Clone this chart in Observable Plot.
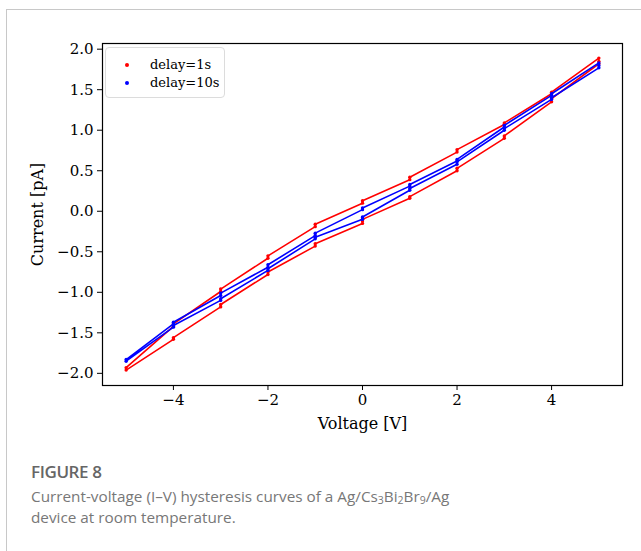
<!DOCTYPE html>
<html><head><meta charset="utf-8">
<script src="https://cdn.jsdelivr.net/npm/d3@7"></script>
<script src="https://cdn.jsdelivr.net/npm/@observablehq/plot@0.6"></script>
<style>
body{margin:0;background:#fff;}
#wrap{position:relative;width:641px;height:551px;overflow:hidden;background:#fff;}
#card{position:absolute;left:6px;top:9px;right:-2px;bottom:-2px;border-left:1px solid #c8c8c8;border-top:1px solid #c8c8c8;}
#chart{position:absolute;left:0;top:0;}
#legend{position:absolute;left:105px;top:47px;width:118px;height:49px;border:1px solid #dcdcdc;border-radius:4px;background:rgba(255,255,255,0.85);font-family:"DejaVu Serif";font-size:13px;color:#000;}
.row{position:absolute;left:0;height:18px;line-height:18px;}
.dot{position:absolute;left:19px;top:7px;width:4px;height:4px;border-radius:50%;}
.lbl{position:absolute;left:44px;top:0;white-space:nowrap;}
#fig{position:absolute;left:31px;top:461px;font-family:"Open Sans";font-weight:600;font-size:17px;line-height:22px;color:#666;letter-spacing:-0.4px;}
#cap{position:absolute;left:31px;top:486px;width:600px;font-family:"Open Sans";font-size:15.3px;line-height:21px;color:#777;}
#cap sub{font-size:10.5px;vertical-align:-2px;line-height:0;}
</style></head>
<body>
<div id="wrap">
  <div id="card"></div>
  <div id="chart"></div>
  <div id="legend"></div>
  <div id="fig">FIGURE 8</div>
  <div id="cap">Current-voltage (I–V) hysteresis curves of a Ag/Cs<sub>3</sub>Bi<sub>2</sub>Br<sub>9</sub>/Ag<br>device at room temperature.</div>
</div>
<script>
// Series names and colours
const seriesNames = ["delay=1s", "delay=10s"];
const seriesColors = ["#ff0000", "#0000ff"];

// Sweep voltages (V), same for both series: 0→5→-5→0
const sweepV = [0, 1,1, 2,2, 3,3, 4,4, 5,5, 5, 4,4, 3,3, 2,2, 1,1, 0,0, -1,-1, -2,-2, -3,-3, -4,-4, -5,-5, -4,-4, -3,-3, -2,-2, -1,-1, 0,0];

// Currents (pA), delay=1s
const current1s = [-0.10, 0.16,0.18, 0.50,0.53, 0.90,0.93, 1.35,1.39, 1.82,1.85, 1.89, 1.47,1.45, 1.09,1.07, 0.76,0.73, 0.42,0.39, 0.13,0.10, -0.16,-0.19, -0.55,-0.58, -0.96,-0.99, -1.39,-1.42, -1.93,-1.96, -1.58,-1.56, -1.18,-1.15, -0.78,-0.75, -0.43,-0.40, -0.15,-0.12];

// Currents (pA), delay=10s
const current10s = [-0.07, 0.26,0.28, 0.58,0.61, 1.00,1.02, 1.38,1.40, 1.77,1.80, 1.83, 1.45,1.43, 1.06,1.04, 0.64,0.62, 0.33,0.31, 0.04,0.02, -0.27,-0.30, -0.66,-0.69, -1.01,-1.04, -1.37,-1.39, -1.83,-1.85, -1.43,-1.41, -1.10,-1.08, -0.73,-0.71, -0.34,-0.32, -0.10,-0.08];

// Tick values
const xTicks = [-4, -2, 0, 2, 4];
const yTicks = [-2.0, -1.5, -1.0, -0.5, 0.0, 0.5, 1.0, 1.5, 2.0];

const d1 = sweepV.map((v, k) => ({v, i: current1s[k]}));
const d10 = sweepV.map((v, k) => ({v, i: current10s[k]}));

const chart = Plot.plot({
  width: 641, height: 440,
  marginLeft: 102, marginRight: 19, marginTop: 43, marginBottom: 55,
  style: {fontFamily: "DejaVu Serif", fontSize: "15px", color: "#000", background: "transparent", overflow: "visible"},
  x: {domain: [-5.5, 5.5]},
  y: {domain: [-2.15, 2.07]},
  marks: [
    Plot.axisX({ticks: xTicks, tickFormat: d3.format("d"), tickSize: 5, tickPadding: 4, stroke: "#000", label: null}),
    Plot.axisY({ticks: yTicks, tickFormat: d3.format(".1f"), tickSize: 5, tickPadding: 4, stroke: "#000", label: null}),
    Plot.axisX({ticks: [], label: "Voltage [V]", labelArrow: "none", labelAnchor: "center", labelOffset: 43, fontSize: 16}),
    Plot.axisY({ticks: [], label: "Current [pA]", labelArrow: "none", labelAnchor: "center", labelOffset: 71, fontSize: 16}),
    Plot.line(d1, {x: "v", y: "i", stroke: seriesColors[0], strokeWidth: 1.6}),
    Plot.dot(d1, {x: "v", y: "i", r: 1.7, fill: seriesColors[0], stroke: "none"}),
    Plot.line(d10, {x: "v", y: "i", stroke: seriesColors[1], strokeWidth: 1.6}),
    Plot.dot(d10, {x: "v", y: "i", r: 1.7, fill: seriesColors[1], stroke: "none"}),
    Plot.frame({stroke: "#000", strokeWidth: 1.2})
  ]
});
document.getElementById("chart").appendChild(chart);

const legend = document.getElementById("legend");
seriesNames.forEach((name, k) => {
  const row = document.createElement("div");
  row.className = "row";
  row.style.top = (8 + k * 18) + "px";
  row.innerHTML = `<span class="dot" style="background:${seriesColors[k]}"></span><span class="lbl">${name}</span>`;
  legend.appendChild(row);
});
</script>
</body></html>
